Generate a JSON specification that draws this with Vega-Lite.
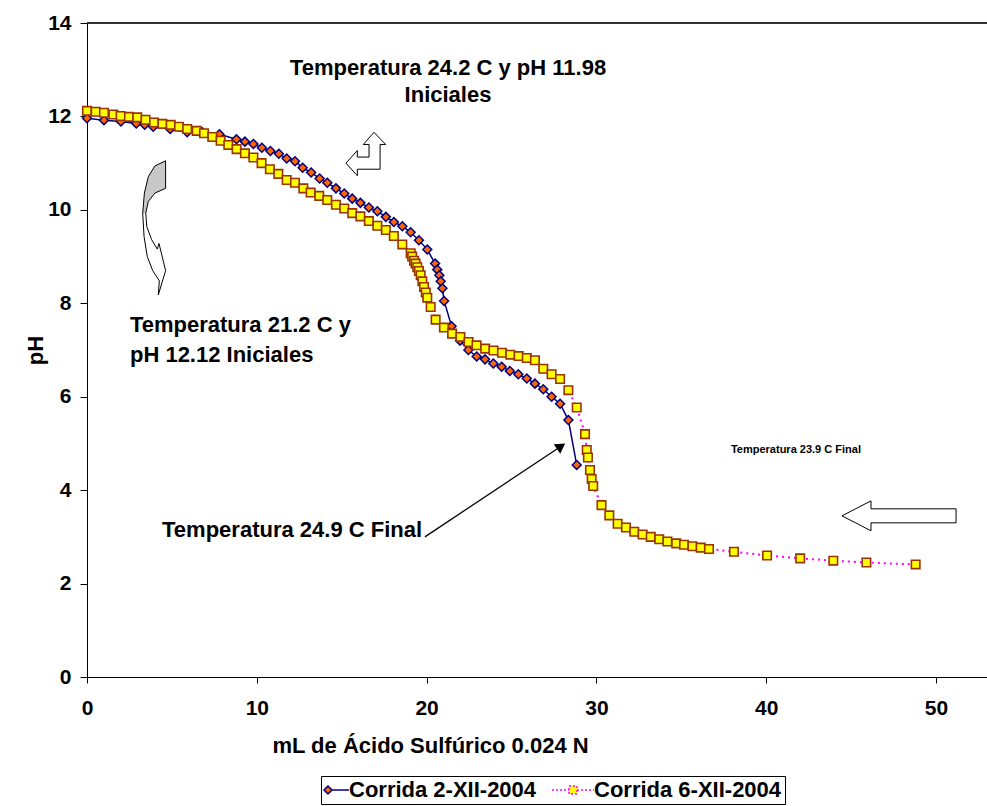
{
  "$schema": "https://vega.github.io/schema/vega-lite/v6.json",
  "width": 902,
  "height": 654,
  "autosize": {"type": "none"},
  "padding": {"left": 87, "top": 23, "right": 0, "bottom": 129},
  "background": "white",
  "config": {
    "view": {"stroke": null},
    "font": "Liberation Sans",
    "axis": {
      "grid": false,
      "domainColor": "black",
      "tickColor": "black",
      "labelColor": "black",
      "labelFont": "Liberation Sans",
      "labelFontWeight": "bold",
      "labelFontSize": 21,
      "titleFont": "Liberation Sans",
      "titleFontWeight": "bold",
      "titleFontSize": 22,
      "titleColor": "black"
    }
  },
  "datasets": {
    "pts": [
      {"series": "Corrida 2-XII-2004", "x": 0, "y": 11.96},
      {"series": "Corrida 2-XII-2004", "x": 1.0, "y": 11.92},
      {"series": "Corrida 2-XII-2004", "x": 2.0, "y": 11.89},
      {"series": "Corrida 2-XII-2004", "x": 2.9, "y": 11.85},
      {"series": "Corrida 2-XII-2004", "x": 3.4, "y": 11.82},
      {"series": "Corrida 2-XII-2004", "x": 3.9, "y": 11.78},
      {"series": "Corrida 2-XII-2004", "x": 4.9, "y": 11.73},
      {"series": "Corrida 2-XII-2004", "x": 5.9, "y": 11.66},
      {"series": "Corrida 2-XII-2004", "x": 6.8, "y": 11.66},
      {"series": "Corrida 2-XII-2004", "x": 7.8, "y": 11.62},
      {"series": "Corrida 2-XII-2004", "x": 8.8, "y": 11.51},
      {"series": "Corrida 2-XII-2004", "x": 9.3, "y": 11.46},
      {"series": "Corrida 2-XII-2004", "x": 9.8, "y": 11.41},
      {"series": "Corrida 2-XII-2004", "x": 10.3, "y": 11.33},
      {"series": "Corrida 2-XII-2004", "x": 10.8, "y": 11.26},
      {"series": "Corrida 2-XII-2004", "x": 11.3, "y": 11.2},
      {"series": "Corrida 2-XII-2004", "x": 11.76, "y": 11.1},
      {"series": "Corrida 2-XII-2004", "x": 12.25, "y": 11.04},
      {"series": "Corrida 2-XII-2004", "x": 12.7, "y": 10.9},
      {"series": "Corrida 2-XII-2004", "x": 13.2, "y": 10.8},
      {"series": "Corrida 2-XII-2004", "x": 13.7, "y": 10.67},
      {"series": "Corrida 2-XII-2004", "x": 14.15, "y": 10.58},
      {"series": "Corrida 2-XII-2004", "x": 14.66, "y": 10.46},
      {"series": "Corrida 2-XII-2004", "x": 15.15, "y": 10.35},
      {"series": "Corrida 2-XII-2004", "x": 15.62, "y": 10.24},
      {"series": "Corrida 2-XII-2004", "x": 16.1, "y": 10.15},
      {"series": "Corrida 2-XII-2004", "x": 16.6, "y": 10.05},
      {"series": "Corrida 2-XII-2004", "x": 17.1, "y": 9.97},
      {"series": "Corrida 2-XII-2004", "x": 17.6, "y": 9.85},
      {"series": "Corrida 2-XII-2004", "x": 18.07, "y": 9.74},
      {"series": "Corrida 2-XII-2004", "x": 18.57, "y": 9.65},
      {"series": "Corrida 2-XII-2004", "x": 19.06, "y": 9.52},
      {"series": "Corrida 2-XII-2004", "x": 19.55, "y": 9.35},
      {"series": "Corrida 2-XII-2004", "x": 20.04, "y": 9.15},
      {"series": "Corrida 2-XII-2004", "x": 20.5, "y": 8.85},
      {"series": "Corrida 2-XII-2004", "x": 20.63, "y": 8.72},
      {"series": "Corrida 2-XII-2004", "x": 20.75, "y": 8.6},
      {"series": "Corrida 2-XII-2004", "x": 20.83, "y": 8.47},
      {"series": "Corrida 2-XII-2004", "x": 20.93, "y": 8.32},
      {"series": "Corrida 2-XII-2004", "x": 21.03, "y": 8.05},
      {"series": "Corrida 2-XII-2004", "x": 21.47, "y": 7.51},
      {"series": "Corrida 2-XII-2004", "x": 21.97, "y": 7.2},
      {"series": "Corrida 2-XII-2004", "x": 22.46, "y": 7.0},
      {"series": "Corrida 2-XII-2004", "x": 22.95, "y": 6.86},
      {"series": "Corrida 2-XII-2004", "x": 23.44, "y": 6.8},
      {"series": "Corrida 2-XII-2004", "x": 23.93, "y": 6.71},
      {"series": "Corrida 2-XII-2004", "x": 24.42, "y": 6.64},
      {"series": "Corrida 2-XII-2004", "x": 24.9, "y": 6.55},
      {"series": "Corrida 2-XII-2004", "x": 25.4, "y": 6.48},
      {"series": "Corrida 2-XII-2004", "x": 25.9, "y": 6.39},
      {"series": "Corrida 2-XII-2004", "x": 26.38, "y": 6.28},
      {"series": "Corrida 2-XII-2004", "x": 26.87, "y": 6.16},
      {"series": "Corrida 2-XII-2004", "x": 27.36, "y": 6.0},
      {"series": "Corrida 2-XII-2004", "x": 27.86, "y": 5.85},
      {"series": "Corrida 2-XII-2004", "x": 28.35, "y": 5.5},
      {"series": "Corrida 2-XII-2004", "x": 28.84, "y": 4.54},
      {"series": "Corrida 6-XII-2004", "x": 0, "y": 12.12},
      {"series": "Corrida 6-XII-2004", "x": 0.51, "y": 12.1},
      {"series": "Corrida 6-XII-2004", "x": 1.0, "y": 12.08},
      {"series": "Corrida 6-XII-2004", "x": 1.55, "y": 12.04},
      {"series": "Corrida 6-XII-2004", "x": 1.98, "y": 12.01},
      {"series": "Corrida 6-XII-2004", "x": 2.47, "y": 11.99},
      {"series": "Corrida 6-XII-2004", "x": 2.96, "y": 11.98},
      {"series": "Corrida 6-XII-2004", "x": 3.45, "y": 11.93},
      {"series": "Corrida 6-XII-2004", "x": 3.95, "y": 11.87},
      {"series": "Corrida 6-XII-2004", "x": 4.44, "y": 11.84},
      {"series": "Corrida 6-XII-2004", "x": 4.93, "y": 11.82},
      {"series": "Corrida 6-XII-2004", "x": 5.42, "y": 11.78},
      {"series": "Corrida 6-XII-2004", "x": 5.9, "y": 11.73},
      {"series": "Corrida 6-XII-2004", "x": 6.46, "y": 11.69},
      {"series": "Corrida 6-XII-2004", "x": 6.89, "y": 11.64},
      {"series": "Corrida 6-XII-2004", "x": 7.38, "y": 11.56},
      {"series": "Corrida 6-XII-2004", "x": 7.87, "y": 11.48},
      {"series": "Corrida 6-XII-2004", "x": 8.32, "y": 11.39},
      {"series": "Corrida 6-XII-2004", "x": 8.81, "y": 11.3},
      {"series": "Corrida 6-XII-2004", "x": 9.3, "y": 11.21},
      {"series": "Corrida 6-XII-2004", "x": 9.8, "y": 11.12},
      {"series": "Corrida 6-XII-2004", "x": 10.28, "y": 11.0},
      {"series": "Corrida 6-XII-2004", "x": 10.77, "y": 10.87},
      {"series": "Corrida 6-XII-2004", "x": 11.27, "y": 10.77},
      {"series": "Corrida 6-XII-2004", "x": 11.76, "y": 10.64},
      {"series": "Corrida 6-XII-2004", "x": 12.25, "y": 10.58},
      {"series": "Corrida 6-XII-2004", "x": 12.74, "y": 10.46},
      {"series": "Corrida 6-XII-2004", "x": 13.17, "y": 10.37},
      {"series": "Corrida 6-XII-2004", "x": 13.68, "y": 10.3},
      {"series": "Corrida 6-XII-2004", "x": 14.15, "y": 10.21},
      {"series": "Corrida 6-XII-2004", "x": 14.66, "y": 10.11},
      {"series": "Corrida 6-XII-2004", "x": 15.15, "y": 10.03},
      {"series": "Corrida 6-XII-2004", "x": 15.62, "y": 9.93},
      {"series": "Corrida 6-XII-2004", "x": 16.1, "y": 9.86},
      {"series": "Corrida 6-XII-2004", "x": 16.6, "y": 9.76},
      {"series": "Corrida 6-XII-2004", "x": 17.1, "y": 9.66},
      {"series": "Corrida 6-XII-2004", "x": 17.6, "y": 9.57},
      {"series": "Corrida 6-XII-2004", "x": 18.07, "y": 9.44},
      {"series": "Corrida 6-XII-2004", "x": 18.57, "y": 9.26},
      {"series": "Corrida 6-XII-2004", "x": 19.06, "y": 9.07},
      {"series": "Corrida 6-XII-2004", "x": 19.15, "y": 9.0},
      {"series": "Corrida 6-XII-2004", "x": 19.26, "y": 8.91},
      {"series": "Corrida 6-XII-2004", "x": 19.35, "y": 8.85},
      {"series": "Corrida 6-XII-2004", "x": 19.45, "y": 8.77},
      {"series": "Corrida 6-XII-2004", "x": 19.55, "y": 8.69},
      {"series": "Corrida 6-XII-2004", "x": 19.65, "y": 8.6},
      {"series": "Corrida 6-XII-2004", "x": 19.75, "y": 8.47},
      {"series": "Corrida 6-XII-2004", "x": 19.85, "y": 8.35},
      {"series": "Corrida 6-XII-2004", "x": 19.95, "y": 8.23},
      {"series": "Corrida 6-XII-2004", "x": 20.04, "y": 8.12},
      {"series": "Corrida 6-XII-2004", "x": 20.24, "y": 7.92},
      {"series": "Corrida 6-XII-2004", "x": 20.53, "y": 7.65},
      {"series": "Corrida 6-XII-2004", "x": 21.02, "y": 7.48},
      {"series": "Corrida 6-XII-2004", "x": 21.5, "y": 7.35},
      {"series": "Corrida 6-XII-2004", "x": 21.99, "y": 7.28},
      {"series": "Corrida 6-XII-2004", "x": 22.47, "y": 7.17},
      {"series": "Corrida 6-XII-2004", "x": 22.94, "y": 7.1},
      {"series": "Corrida 6-XII-2004", "x": 23.45, "y": 7.03},
      {"series": "Corrida 6-XII-2004", "x": 23.94, "y": 6.99},
      {"series": "Corrida 6-XII-2004", "x": 24.44, "y": 6.94},
      {"series": "Corrida 6-XII-2004", "x": 24.93, "y": 6.9},
      {"series": "Corrida 6-XII-2004", "x": 25.42, "y": 6.87},
      {"series": "Corrida 6-XII-2004", "x": 25.9, "y": 6.83},
      {"series": "Corrida 6-XII-2004", "x": 26.38, "y": 6.78},
      {"series": "Corrida 6-XII-2004", "x": 26.87, "y": 6.6},
      {"series": "Corrida 6-XII-2004", "x": 27.36, "y": 6.48},
      {"series": "Corrida 6-XII-2004", "x": 27.86, "y": 6.38},
      {"series": "Corrida 6-XII-2004", "x": 28.35, "y": 6.14},
      {"series": "Corrida 6-XII-2004", "x": 28.84, "y": 5.77},
      {"series": "Corrida 6-XII-2004", "x": 29.33, "y": 5.2},
      {"series": "Corrida 6-XII-2004", "x": 29.43, "y": 4.86},
      {"series": "Corrida 6-XII-2004", "x": 29.5, "y": 4.7},
      {"series": "Corrida 6-XII-2004", "x": 29.62, "y": 4.43},
      {"series": "Corrida 6-XII-2004", "x": 29.72, "y": 4.24},
      {"series": "Corrida 6-XII-2004", "x": 29.81, "y": 4.09},
      {"series": "Corrida 6-XII-2004", "x": 30.3, "y": 3.68},
      {"series": "Corrida 6-XII-2004", "x": 30.76, "y": 3.46},
      {"series": "Corrida 6-XII-2004", "x": 31.25, "y": 3.28},
      {"series": "Corrida 6-XII-2004", "x": 31.74, "y": 3.2},
      {"series": "Corrida 6-XII-2004", "x": 32.23, "y": 3.11},
      {"series": "Corrida 6-XII-2004", "x": 32.72, "y": 3.05},
      {"series": "Corrida 6-XII-2004", "x": 33.2, "y": 3.0},
      {"series": "Corrida 6-XII-2004", "x": 33.7, "y": 2.95},
      {"series": "Corrida 6-XII-2004", "x": 34.18, "y": 2.9},
      {"series": "Corrida 6-XII-2004", "x": 34.7, "y": 2.86},
      {"series": "Corrida 6-XII-2004", "x": 35.16, "y": 2.83},
      {"series": "Corrida 6-XII-2004", "x": 35.65, "y": 2.8},
      {"series": "Corrida 6-XII-2004", "x": 36.14, "y": 2.77},
      {"series": "Corrida 6-XII-2004", "x": 36.63, "y": 2.74},
      {"series": "Corrida 6-XII-2004", "x": 38.1, "y": 2.68},
      {"series": "Corrida 6-XII-2004", "x": 40.05, "y": 2.6},
      {"series": "Corrida 6-XII-2004", "x": 42.0, "y": 2.54},
      {"series": "Corrida 6-XII-2004", "x": 43.95, "y": 2.49},
      {"series": "Corrida 6-XII-2004", "x": 45.9, "y": 2.45},
      {"series": "Corrida 6-XII-2004", "x": 48.8, "y": 2.41}
    ],
    "shapes": [
      {"shape": "bent", "i": 0, "x": 15.25, "y": 11.0},
      {"shape": "bent", "i": 1, "x": 15.92, "y": 11.27},
      {"shape": "bent", "i": 2, "x": 15.92, "y": 11.13},
      {"shape": "bent", "i": 3, "x": 16.61, "y": 11.13},
      {"shape": "bent", "i": 4, "x": 16.61, "y": 11.4},
      {"shape": "bent", "i": 5, "x": 16.27, "y": 11.4},
      {"shape": "bent", "i": 6, "x": 16.9, "y": 11.66},
      {"shape": "bent", "i": 7, "x": 17.59, "y": 11.4},
      {"shape": "bent", "i": 8, "x": 17.26, "y": 11.4},
      {"shape": "bent", "i": 9, "x": 17.26, "y": 10.87},
      {"shape": "bent", "i": 10, "x": 15.92, "y": 10.87},
      {"shape": "bent", "i": 11, "x": 15.92, "y": 10.73},
      {"shape": "bent", "i": 12, "x": 15.25, "y": 11.0},
      {"shape": "left", "i": 0, "x": 44.46, "y": 3.45},
      {"shape": "left", "i": 1, "x": 46.17, "y": 3.77},
      {"shape": "left", "i": 2, "x": 46.17, "y": 3.6},
      {"shape": "left", "i": 3, "x": 51.18, "y": 3.6},
      {"shape": "left", "i": 4, "x": 51.18, "y": 3.3},
      {"shape": "left", "i": 5, "x": 46.17, "y": 3.3},
      {"shape": "left", "i": 6, "x": 46.17, "y": 3.13},
      {"shape": "left", "i": 7, "x": 44.46, "y": 3.45},
      {"shape": "curve", "i": 0, "x": 4.63, "y": 11.05},
      {"shape": "curve", "i": 1, "x": 4.0, "y": 10.94},
      {"shape": "curve", "i": 2, "x": 3.61, "y": 10.71},
      {"shape": "curve", "i": 3, "x": 3.38, "y": 10.36},
      {"shape": "curve", "i": 4, "x": 3.28, "y": 9.93},
      {"shape": "curve", "i": 5, "x": 3.36, "y": 9.43},
      {"shape": "curve", "i": 6, "x": 3.55, "y": 9.0},
      {"shape": "curve", "i": 7, "x": 3.87, "y": 8.7},
      {"shape": "curve", "i": 8, "x": 4.26, "y": 8.48},
      {"shape": "curve", "i": 9, "x": 4.2, "y": 8.18},
      {"shape": "curve", "i": 10, "x": 4.63, "y": 8.7},
      {"shape": "curve", "i": 11, "x": 4.24, "y": 9.28},
      {"shape": "curve", "i": 12, "x": 4.14, "y": 9.16},
      {"shape": "curve", "i": 13, "x": 3.81, "y": 9.36},
      {"shape": "curve", "i": 14, "x": 3.52, "y": 9.64},
      {"shape": "curve", "i": 15, "x": 3.46, "y": 9.93},
      {"shape": "curve", "i": 16, "x": 3.61, "y": 10.18},
      {"shape": "curve", "i": 17, "x": 4.0, "y": 10.36},
      {"shape": "curve", "i": 18, "x": 4.63, "y": 10.46},
      {"shape": "curve", "i": 19, "x": 4.63, "y": 11.05},
      {"shape": "gray", "i": 0, "x": 4.63, "y": 11.05},
      {"shape": "gray", "i": 1, "x": 4.0, "y": 10.94},
      {"shape": "gray", "i": 2, "x": 3.61, "y": 10.71},
      {"shape": "gray", "i": 3, "x": 3.38, "y": 10.36},
      {"shape": "gray", "i": 4, "x": 3.28, "y": 9.93},
      {"shape": "gray", "i": 5, "x": 3.46, "y": 9.93},
      {"shape": "gray", "i": 6, "x": 3.61, "y": 10.18},
      {"shape": "gray", "i": 7, "x": 4.0, "y": 10.36},
      {"shape": "gray", "i": 8, "x": 4.63, "y": 10.46},
      {"shape": "gray", "i": 9, "x": 4.63, "y": 11.05},
      {"shape": "callout", "i": 0, "x": 19.9, "y": 3.0},
      {"shape": "callout", "i": 1, "x": 27.92, "y": 4.94}
    ],
    "centerText": [
      {"t": "Temperatura 24.2 C y pH 11.98", "x": 21.26, "y": 13.04},
      {"t": "Iniciales", "x": 21.26, "y": 12.46}
    ],
    "leftText": [
      {"t": "Temperatura 21.2 C y", "x": 2.53, "y": 7.54},
      {"t": "pH 12.12 Iniciales", "x": 2.53, "y": 6.89},
      {"t": "Temperatura 24.9 C Final", "x": 4.42, "y": 3.15}
    ],
    "smallText": [
      {"t": "Temperatura 23.9 C Final", "x": 41.75, "y": 4.86}
    ],
    "head": [
      {"x": 27.92, "y": 4.94}
    ],
    "frame": [
      {"x": 0, "x2": 53.2, "y": 14}
    ]
  },
  "encoding": {
    "x": {
      "field": "x",
      "type": "quantitative",
      "scale": {"domain": [0, 53.12], "nice": false, "zero": false},
      "axis": {
        "values": [0, 10, 20, 30, 40, 50],
        "title": "mL de Ácido Sulfúrico 0.024 N",
        "tickSize": 6,
        "labelPadding": 14,
        "labelFlush": false,
        "titleX": 343,
        "titleY": 68,
        "titleAlign": "center",
        "titleBaseline": "middle"
      }
    },
    "y": {
      "field": "y",
      "type": "quantitative",
      "scale": {"domain": [0, 14], "nice": false, "zero": false},
      "axis": {
        "values": [0, 2, 4, 6, 8, 10, 12, 14],
        "title": "pH",
        "tickSize": 7,
        "labelPadding": 9,
        "labelFlush": false,
        "titleX": -52,
        "titleY": 327,
        "titleAlign": "center",
        "titleBaseline": "middle"
      }
    }
  },
  "layer": [
    {
      "data": {"name": "frame"},
      "mark": {"type": "rule", "color": "#333333", "strokeWidth": 2},
      "encoding": {
        "x": {"field": "x", "type": "quantitative"},
        "x2": {"field": "x2"},
        "y": {"field": "y", "type": "quantitative"}
      }
    },
    {
      "data": {"name": "pts"},
      "transform": [{"filter": "datum.x < 0"}],
      "mark": {"type": "point", "filled": true},
      "encoding": {
        "shape": {
          "field": "series",
          "type": "nominal",
          "scale": {"domain": ["Corrida 2-XII-2004", "Corrida 6-XII-2004"], "range": ["M2,0H10.5M0,-2L2,0L0,2L-2,0Z", "M-10.5,0H-2M2,0H10.5M-2,-2H2V2H-2Z"]},
          "legend": {
            "orient": "none",
            "legendX": 234,
            "legendY": 753,
            "direction": "horizontal",
            "title": null,
            "labelFont": "Liberation Sans",
            "labelFontSize": 22,
            "labelFontWeight": "bold",
            "labelColor": "black",
            "labelLimit": 400,
            "strokeColor": "black",
            "padding": 3,
            "columnPadding": 12,
            "labelOffset": 10,
            "symbolOffset": -7,
            "symbolSize": 16,
            "symbolStrokeWidth": 1.5,
            "symbolOpacity": 1
          }
        },
        "fill": {
          "field": "series",
          "type": "nominal",
          "scale": {"domain": ["Corrida 2-XII-2004", "Corrida 6-XII-2004"], "range": ["#FF6600", "#FFFF00"]}
        },
        "stroke": {
          "field": "series",
          "type": "nominal",
          "scale": {"domain": ["Corrida 2-XII-2004", "Corrida 6-XII-2004"], "range": ["#000080", "#FF00FF"]}
        },
        "strokeDash": {
          "field": "series",
          "type": "nominal",
          "scale": {"domain": ["Corrida 2-XII-2004", "Corrida 6-XII-2004"], "range": [[1, 0], [2, 2]]}
        }
      }
    },
    {
      "data": {"name": "shapes"},
      "transform": [{"filter": "datum.shape === 'gray'"}],
      "mark": {"type": "line", "fill": "#c8c8c8", "stroke": "transparent", "strokeWidth": 0},
      "encoding": {"order": {"field": "i", "type": "quantitative"}}
    },
    {
      "data": {"name": "shapes"},
      "transform": [{"filter": "datum.shape === 'curve' || datum.shape === 'bent' || datum.shape === 'left'"}],
      "mark": {"type": "line", "color": "black", "strokeWidth": 1, "strokeJoin": "miter"},
      "encoding": {
        "detail": {"field": "shape", "type": "nominal"},
        "order": {"field": "i", "type": "quantitative"}
      }
    },
    {
      "data": {"name": "shapes"},
      "transform": [{"filter": "datum.shape === 'callout'"}],
      "mark": {"type": "line", "color": "black", "strokeWidth": 1.3},
      "encoding": {"order": {"field": "i", "type": "quantitative"}}
    },
    {
      "data": {"name": "head"},
      "mark": {"type": "point", "shape": "triangle-up", "filled": true, "color": "black", "size": 130, "angle": 56, "opacity": 1}
    },
    {
      "data": {"name": "pts"},
      "transform": [{"filter": "datum.series === 'Corrida 2-XII-2004'"}],
      "mark": {"type": "line", "color": "#000080", "strokeWidth": 1.5}
    },
    {
      "data": {"name": "pts"},
      "transform": [{"filter": "datum.series === 'Corrida 2-XII-2004'"}],
      "mark": {"type": "point", "shape": "diamond", "filled": true, "fill": "#FF6600", "stroke": "#000080", "strokeWidth": 1.5, "size": 80, "opacity": 1}
    },
    {
      "data": {"name": "pts"},
      "transform": [{"filter": "datum.series === 'Corrida 6-XII-2004'"}],
      "mark": {"type": "line", "color": "#FF00FF", "strokeWidth": 2, "strokeDash": [2, 4]}
    },
    {
      "data": {"name": "pts"},
      "transform": [{"filter": "datum.series === 'Corrida 6-XII-2004'"}],
      "mark": {"type": "point", "shape": "square", "filled": true, "fill": "#FFFF00", "stroke": "#993300", "strokeWidth": 1.6, "size": 72, "opacity": 1}
    },
    {
      "data": {"name": "centerText"},
      "mark": {"type": "text", "font": "Liberation Sans", "fontWeight": "bold", "fontSize": 22, "align": "center", "baseline": "middle", "color": "black"},
      "encoding": {"text": {"field": "t"}}
    },
    {
      "data": {"name": "leftText"},
      "mark": {"type": "text", "font": "Liberation Sans", "fontWeight": "bold", "fontSize": 22, "align": "left", "baseline": "middle", "color": "black"},
      "encoding": {"text": {"field": "t"}}
    },
    {
      "data": {"name": "smallText"},
      "mark": {"type": "text", "font": "Liberation Sans", "fontWeight": "bold", "fontSize": 11, "align": "center", "baseline": "middle", "color": "black"},
      "encoding": {"text": {"field": "t"}}
    }
  ]
}
